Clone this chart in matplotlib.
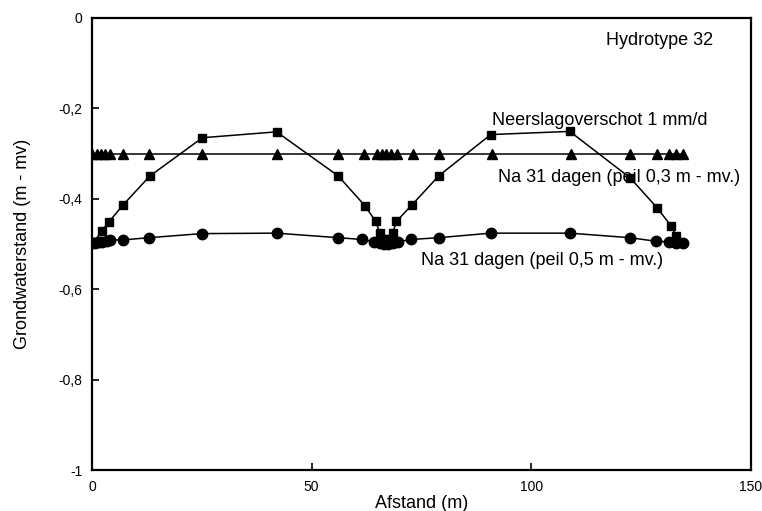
import matplotlib
matplotlib.use("Agg")
import matplotlib.pyplot as plt
from matplotlib.ticker import FuncFormatter

plt.rcParams["font.family"] = ["Liberation Sans", "DejaVu Sans"]

# peil 0,3 m - mv. (driehoekjes)
tri_x = [0, 1, 2, 3, 4, 7, 13, 25, 42, 56, 62, 65, 66, 67, 68, 69.5, 73, 79,
         91, 109, 122.5, 128.7, 131.5, 133, 134.5]
tri_y = [-0.3] * len(tri_x)

# neerslagoverschot 1 mm/d (vierkantjes)
sq_x = [0.4, 2.2, 3.8, 7.1, 13.1, 25.1, 42, 56, 62.1, 64.6, 65.5, 66.3, 67, 67.7,
        68.5, 69.3, 72.8, 79, 90.8, 108.8, 122.6, 128.7, 131.9, 133, 133.8]
sq_y = [-0.496, -0.471, -0.451, -0.413, -0.35, -0.265, -0.252, -0.349, -0.415,
        -0.45, -0.475, -0.49, -0.5, -0.49, -0.475, -0.45, -0.414, -0.349,
        -0.258, -0.251, -0.354, -0.42, -0.46, -0.482, -0.497]

# peil 0,5 m - mv. (rondjes)
circ_x = [0, 0.7, 1.5, 2.3, 3.4, 4.1, 7, 13, 25, 42, 56, 61.5, 64.3, 65.5, 66.5,
          67.5, 68.5, 69.7, 72.7, 79, 90.8, 108.8, 122.5, 128.5, 131.5, 133, 134.5]
circ_y = [-0.497, -0.497, -0.496, -0.496, -0.493, -0.491, -0.491, -0.486, -0.477,
          -0.476, -0.486, -0.49, -0.495, -0.497, -0.5, -0.5, -0.497, -0.495,
          -0.49, -0.486, -0.476, -0.476, -0.486, -0.494, -0.495, -0.497, -0.497]

fig = plt.figure(figsize=(7.62, 5.11), dpi=100)
ax = fig.add_axes([0.121, 0.080, 0.864, 0.885])

line_kw = dict(color="black", linewidth=1.1)
ax.plot(tri_x, tri_y, marker="^", markersize=7.5, **line_kw)
ax.plot(sq_x, sq_y, marker="s", markersize=6, **line_kw)
ax.plot(circ_x, circ_y, marker="o", markersize=7.5, **line_kw)

ax.set_xlim(0, 150)
ax.set_ylim(-1, 0)
ax.set_xticks([0, 50, 100, 150])
ax.set_yticks([0, -0.2, -0.4, -0.6, -0.8, -1])
ax.yaxis.set_major_formatter(
    FuncFormatter(lambda v, p: f"{v:g}".replace(".", ",")))
ax.tick_params(direction="in", length=5, width=1.2, labelsize=10, pad=7)

for s in ax.spines.values():
    s.set_linewidth(1.6)

ax.set_xlabel("Afstand (m)", fontsize=13, labelpad=1)
ax.set_ylabel("Grondwaterstand (m - mv)", fontsize=13, labelpad=20)

txt = dict(fontsize=13, color="black")
ax.text(141.4, -0.049, "Hydrotype 32", ha="right", va="center", **txt)
ax.text(91.2, -0.228, "Neerslagoverschot 1 mm/d", ha="left", va="center", **txt)
ax.text(92.4, -0.353, "Na 31 dagen (peil 0,3 m - mv.)", ha="left", va="center", **txt)
ax.text(74.9, -0.537, "Na 31 dagen (peil 0,5 m - mv.)", ha="left", va="center", **txt)

fig.savefig("out.png", dpi=100)
